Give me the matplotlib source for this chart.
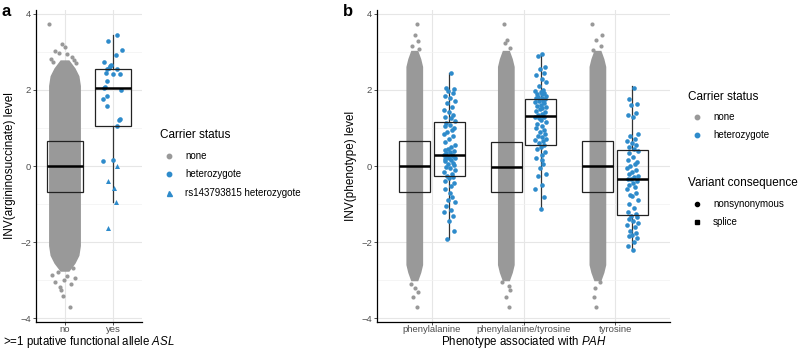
import matplotlib
matplotlib.use("Agg")
import matplotlib.pyplot as plt
from matplotlib.patches import Rectangle, Polygon
from matplotlib.lines import Line2D

plt.rcParams['font.family'] = ['Liberation Sans', 'DejaVu Sans']
plt.rcParams['mathtext.fontset'] = 'custom'
plt.rcParams['mathtext.rm'] = 'Liberation Sans'
plt.rcParams['mathtext.it'] = 'Liberation Sans:italic'

GREY = '#999999'
BLUE = '#2e8bcb'

# ---------------- data: panel a ----------------
a_cats = ['no', 'yes']
# box stats: q1, median, q3, whisker low, whisker high
a_box = {'no': (-0.68, 0.0, 0.67, -2.7, 2.7),
         'yes': (1.05, 2.05, 2.55, -0.94, 3.43)}
# dense cloud of non-carriers: y levels and half widths (x units)
a_cloud_y = [-2.75, -2.55, -2.35, -2.1, 2.1, 2.35, 2.55, 2.75]
a_cloud_hw = [0.08, 0.20, 0.28, 0.31, 0.31, 0.28, 0.20, 0.08]
# sparse tail points of the non-carrier cloud
a_tail_y = [3.72, 3.21, 3.14, 3.02, 2.97, 2.86, 2.79, 2.82, 2.73, 2.95, 2.70, 2.68,
            -3.04, -3.19, -3.27, -3.41, -3.70, -3.09, -2.69, -2.85, -2.95, -2.78, -2.90, -3.00]
a_tail_dx = [-0.33, -0.07, 0.01, -0.20, -0.13, 0.14, 0.19, -0.29, -0.24, 0.05, 0.22, -0.05,
             -0.21, -0.11, -0.08, -0.05, 0.10, 0.13, 0.16, -0.27, 0.20, -0.15, 0.05, -0.02]
# heterozygotes
a_het_y = [3.43, 3.29, 3.06, 2.93, 2.73, 2.66, 2.62, 2.58, 2.54, 2.54, 2.41, 2.42, 2.45,
           2.23, 2.06, 2.08, 1.99, 1.83, 1.75, 1.59, 1.23, 1.20, 1.05, 0.13, 0.15]
a_het_dx = [0.09, -0.10, 0.18, 0.06, -0.18, -0.04, -0.06, -0.08, 0.08, -0.13, 0.14, -0.01, -0.15,
            -0.13, -0.18, -0.16, 0.17, -0.13, -0.20, -0.13, 0.15, 0.12, 0.08, -0.20, 0.0]
# rs143793815 heterozygotes
a_rs_y = [-0.01, -0.38, -0.59, -0.94, -1.64]
a_rs_dx = [0.08, -0.10, 0.03, 0.07, -0.10]

# ---------------- data: panel b ----------------
b_cats = ['phenylalanine', 'phenylalanine/tyrosine', 'tyrosine']
b_box_none = [(-0.68, 0.0, 0.66, -2.7, 2.7),
              (-0.68, -0.02, 0.64, -2.7, 2.7),
              (-0.67, 0.01, 0.67, -2.7, 2.7)]
b_box_het = [(-0.27, 0.28, 1.15, -1.92, 2.45),
             (0.55, 1.32, 1.76, -1.12, 2.95),
             (-1.28, -0.33, 0.43, -2.21, 2.09)]
b_cloud_y = [-3.0, -2.8, -2.6, 2.6, 2.8, 3.0]
b_cloud_hw = [0.03, 0.06, 0.08, 0.08, 0.06, 0.03]
b_tail_y = [[3.72, 3.45, 3.28, 3.15, 3.08, -3.10, -3.20, -3.30, -3.43, -3.70],
            [3.72, 3.30, 3.22, 3.10, -3.05, -3.15, -3.25, -3.43, -3.70],
            [3.72, 3.45, 3.30, 3.15, 3.05, -3.05, -3.20, -3.43, -3.70]]
b_tail_dx = [[0.02, 0.0, 0.04, -0.03, 0.05, -0.04, 0.0, 0.03, -0.02, 0.02],
             [-0.03, 0.01, -0.02, 0.04, -0.05, 0.03, 0.04, 0.0, 0.03],
             [-0.06, 0.04, -0.02, 0.03, -0.05, 0.02, -0.03, -0.04, -0.02]]
b_het_y = [
    [2.45, 2.05, 2.02, 1.98, 1.92, 1.85, 1.80, 1.72, 1.65, 1.55,
     1.48, 1.42, 1.35, 1.30, 1.25, 1.18, 1.12, 1.08, 1.05, 1.00,
     0.95, 0.90, 0.85, 0.78, 0.70, 0.62, 0.55, 0.50, 0.45, 0.42,
     0.40, 0.36, 0.33, 0.30, 0.28, 0.27, 0.25, 0.22, 0.20, 0.18,
     0.15, 0.12, 0.08, 0.05, 0.02, -0.02, -0.06, -0.10, -0.15, -0.20,
     -0.25, -0.28, -0.32, -0.38, -0.45, -0.52, -0.60, -0.70, -0.82, -0.88,
     -0.95, -1.05, -1.15, -1.22, -1.32, -1.45, -1.70, -1.92],
    [2.95, 2.90, 2.60, 2.55, 2.45, 2.40, 2.30, 2.20, 2.10, 2.00,
     1.98, 1.95, 1.92, 1.90, 1.88, 1.85, 1.82, 1.80, 1.78, 1.75,
     1.72, 1.70, 1.68, 1.65, 1.60, 1.58, 1.55, 1.52, 1.50, 1.45,
     1.42, 1.38, 1.35, 1.32, 1.30, 1.28, 1.25, 1.20, 1.15, 1.10,
     1.05, 1.00, 0.95, 0.90, 0.85, 0.80, 0.75, 0.72, 0.68, 0.65,
     0.60, 0.55, 0.50, 0.45, 0.38, 0.30, 0.22, 0.15, 0.05, -0.05,
     -0.20, -0.25, -0.50, -0.60, -0.82, -1.12],
    [2.05, 1.75, 1.62, 1.60, 1.40, 1.35, 1.30, 0.85, 0.80, 0.72,
     0.65, 0.60, 0.55, 0.50, 0.45, 0.40, 0.35, 0.25, 0.15, 0.10,
     0.05, 0.00, -0.05, -0.10, -0.15, -0.20, -0.25, -0.30, -0.33, -0.35,
     -0.40, -0.45, -0.50, -0.55, -0.60, -0.70, -0.75, -0.80, -0.90, -1.00,
     -1.10, -1.20, -1.25, -1.30, -1.35, -1.40, -1.45, -1.50, -1.55, -1.60,
     -1.70, -1.75, -1.80, -1.85, -1.90, -2.00, -2.10, -2.21]]
# horizontal jitter of the heterozygote points
b_het_dx = [0.02, -0.03, 0.05, -0.01, 0.04, -0.05, 0.01, 0.06, -0.02, 0.03,
            -0.06, 0.00, 0.04, -0.04, 0.02, 0.06, -0.03, 0.01, -0.05, 0.05,
            0.03, -0.02, -0.06, 0.04, 0.00, -0.04, 0.06, 0.02, -0.01, -0.05,
            0.05, 0.01, -0.03, 0.03, -0.06, 0.04, -0.02, 0.00, 0.06, -0.04,
            0.02, -0.05, 0.04, -0.01, 0.05, -0.03, 0.01, 0.06, -0.06, 0.03,
            -0.02, 0.04, 0.00, -0.04, 0.05, 0.02, -0.05, 0.01, 0.03, -0.01,
            0.06, -0.03, 0.02, -0.06, 0.04, 0.00, 0.05, -0.02]


def draw_box(ax, x, w, stats):
    q1, med, q3, lo, hi = stats
    ax.plot([x, x], [q3, hi], color='#333333', lw=0.9, zorder=1)
    ax.plot([x, x], [lo, q1], color='#333333', lw=0.9, zorder=1)
    ax.add_patch(Rectangle((x - w / 2, q1), w, q3 - q1, fill=False,
                           edgecolor='#222222', lw=0.9, zorder=3))
    ax.plot([x - w / 2, x + w / 2], [med, med], color='black', lw=1.8,
            solid_capstyle='butt', zorder=3)


def draw_cloud(ax, x, cy, hw, ty, tdx, s):
    pts = [(x - h, y) for y, h in zip(cy, hw)] + \
          [(x + h, y) for y, h in zip(reversed(cy), reversed(hw))]
    ax.add_patch(Polygon(pts, closed=True, facecolor=GREY, edgecolor=GREY,
                         lw=1.5, zorder=2))
    ax.scatter([x + d for d in tdx], ty, s=s, color=GREY, lw=0, zorder=2)


def style_axes(ax, ncat):
    ax.set_ylim(-4.09, 4.1)
    ax.set_xlim(0.4, ncat + 0.6)
    ax.set_yticks([-4, -2, 0, 2, 4])
    ax.set_yticks([-3, -1, 1, 3], minor=True)
    ax.set_xticks(range(1, ncat + 1))
    ax.grid(True, which='major', color='#e6e6e6', lw=0.8, zorder=0)
    ax.grid(True, which='minor', axis='y', color='#f2f2f2', lw=0.5, zorder=0)
    ax.set_axisbelow(True)
    for sp in ['top', 'right']:
        ax.spines[sp].set_visible(False)
    for sp in ['left', 'bottom']:
        ax.spines[sp].set_linewidth(0.9)
    ax.tick_params(which='major', length=2.5, width=0.6, color='#333333',
                   labelsize=6.8, labelcolor='#4d4d4d', pad=1)
    ax.tick_params(axis='x', which='major', pad=0.2)
    ax.tick_params(which='minor', length=0)


fig = plt.figure(figsize=(7.99, 3.52), dpi=100)
W, H = 799, 352
bottom = 1 - 321.7 / H
height = 311.7 / H
xlab_y = -(344.5 - 321.7) / 311.7

# ---------------- panel a ----------------
ax1 = fig.add_axes([36.2 / W, bottom, 105.6 / W, height])
style_axes(ax1, 2)
draw_box(ax1, 1, 0.75, a_box['no'])
draw_box(ax1, 2, 0.75, a_box['yes'])
draw_cloud(ax1, 1, a_cloud_y, a_cloud_hw, a_tail_y, a_tail_dx, 9)
ax1.scatter([2 + d for d in a_het_dx], a_het_y, s=11, color=BLUE, lw=0, zorder=2)
ax1.scatter([2 + d for d in a_rs_dx], a_rs_y, s=13, marker='^', color=BLUE, lw=0, zorder=2)
ax1.set_xticklabels(a_cats)
ax1.set_ylabel('INV(argininosuccinate) level', fontsize=8.5, labelpad=3)
ax1.set_xlabel(r'>=1 putative functional allele $\mathit{ASL}$', fontsize=8.3, va='baseline')
ax1.xaxis.set_label_coords(0.5, xlab_y)

# ---------------- panel b ----------------
ax2 = fig.add_axes([377 / W, bottom, 293 / W, height])
style_axes(ax2, 3)
off = 0.1875
for i in range(3):
    x = i + 1
    draw_box(ax2, x - off, 0.34, b_box_none[i])
    draw_box(ax2, x + off, 0.34, b_box_het[i])
    draw_cloud(ax2, x - off, b_cloud_y, b_cloud_hw, b_tail_y[i], b_tail_dx[i], 9)
    ys = b_het_y[i]
    ax2.scatter([x + off + d for d in b_het_dx[:len(ys)]], ys, s=11,
                color=BLUE, lw=0, zorder=2)
ax2.set_xticklabels(b_cats)
ax2.set_ylabel('INV(phenotype) level', fontsize=8.5, labelpad=3)
ax2.set_xlabel(r'Phenotype associated with $\mathit{PAH}$', fontsize=8.3, va='baseline')
ax2.xaxis.set_label_coords(0.5, xlab_y)

# panel letters
fig.text(2 / W, 1 - 4 / H, 'a', fontsize=12, fontweight='bold', va='top', ha='left')
fig.text(343 / W, 1 - 4 / H, 'b', fontsize=12, fontweight='bold', va='top', ha='left')


# ---------------- legends ----------------
def legend_entry(x, y, marker, color, label, ms):
    fig.add_artist(Line2D([x / W], [1 - y / H], marker=marker, color=color,
                          ms=ms, lw=0, transform=fig.transFigure))
    fig.text((x + 16) / W, 1 - y / H, label, fontsize=7, va='center', ha='left')


fig.text(160 / W, 1 - 135 / H, 'Carrier status', fontsize=8.5, va='center', ha='left')
legend_entry(169, 155.7, 'o', GREY, 'none', 3.2)
legend_entry(169, 174, 'o', BLUE, 'heterozygote', 3.2)
legend_entry(169, 192.7, '^', BLUE, 'rs143793815 heterozygote', 3.6)

fig.text(688 / W, 1 - 97 / H, 'Carrier status', fontsize=8.5, va='center', ha='left')
legend_entry(697, 117, 'o', GREY, 'none', 3.2)
legend_entry(697, 135, 'o', BLUE, 'heterozygote', 3.2)
fig.text(688 / W, 1 - 183 / H, 'Variant consequence', fontsize=8.5, va='center', ha='left')
legend_entry(697, 204, 'o', 'black', 'nonsynonymous', 3.0)
legend_entry(697, 222, 's', 'black', 'splice', 3.0)

fig.savefig('out.png', dpi=100)
